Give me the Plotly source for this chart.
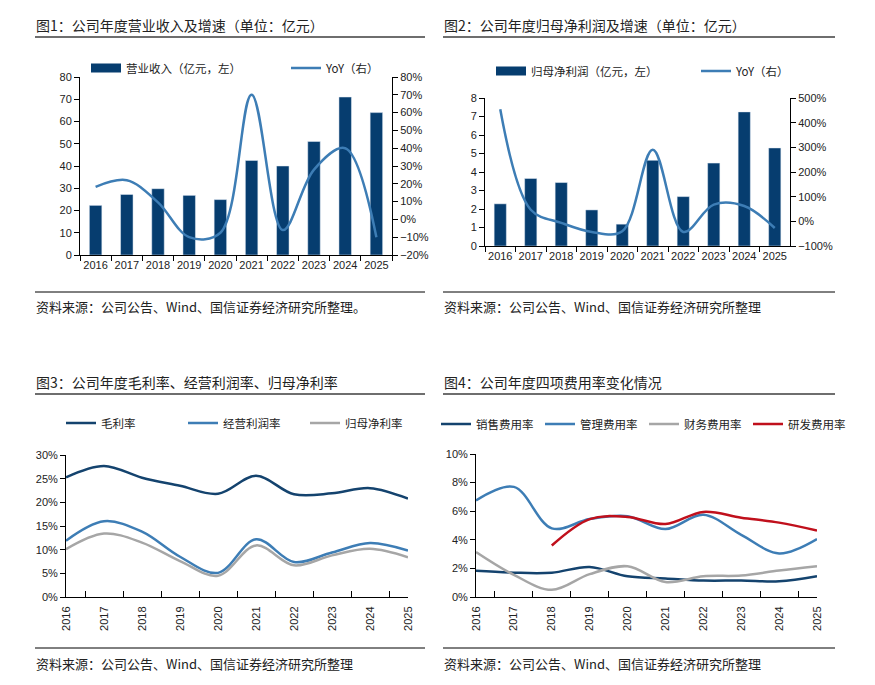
import plotly.graph_objects as go

years = ["2016", "2017", "2018", "2019", "2020", "2021", "2022", "2023", "2024", "2025"]

revenue = [22.3, 27.2, 29.8, 26.8, 24.9, 42.5, 40.0, 51.0, 71.0, 64.0]
revenue_yoy = [0.183, 0.22, 0.096, -0.10, -0.075, 0.70, -0.06, 0.28, 0.40, -0.10]

net_profit = [2.28, 3.65, 3.43, 1.95, 1.18, 4.63, 2.67, 4.48, 7.25, 5.30]
net_profit_yoy = [4.54, 0.47, -0.06, -0.43, -0.40, 2.90, -0.43, 0.68, 0.62, -0.27]

gross_margin = [0.253, 0.277, 0.252, 0.235, 0.218, 0.256, 0.217, 0.219, 0.230, 0.208]
op_margin = [0.119, 0.160, 0.138, 0.085, 0.051, 0.122, 0.074, 0.094, 0.114, 0.098]
net_margin = [0.101, 0.134, 0.115, 0.076, 0.045, 0.109, 0.067, 0.088, 0.102, 0.084]

sales_rate = [0.0183, 0.017, 0.017, 0.021, 0.0145, 0.013, 0.0115, 0.0115, 0.011, 0.0145]
admin_rate = [0.0675, 0.077, 0.048, 0.0545, 0.0565, 0.0475, 0.0575, 0.0435, 0.0305, 0.0405]
fin_rate = [0.0315, 0.0155, 0.005, 0.016, 0.0215, 0.0105, 0.0145, 0.015, 0.0185, 0.0215]
rd_rate = [None, None, 0.036, 0.0545, 0.056, 0.051, 0.0595, 0.0555, 0.052, 0.0465]

titles = ["图1：公司年度营业收入及增速（单位：亿元）",
          "图2：公司年度归母净利润及增速（单位：亿元）",
          "图3：公司年度毛利率、经营利润率、归母净利率",
          "图4：公司年度四项费用率变化情况"]
sources = ["资料来源：公司公告、Wind、国信证券经济研究所整理。",
           "资料来源：公司公告、Wind、国信证券经济研究所整理",
           "资料来源：公司公告、Wind、国信证券经济研究所整理",
           "资料来源：公司公告、Wind、国信证券经济研究所整理"]

W, H = 875, 685
OFF = 8  # page body margin
FONT = "Noto Sans CJK SC, Liberation Sans, Arial, sans-serif"
NAVY = "#063d6f"
MID = "#3d7db5"
GRAY = "#a6a6a6"
RED = "#c0101c"
TXT = "#222222"

def px(x):
    return (x - OFF) / W

def py(y):
    return 1 - (y - OFF) / H

fig = go.Figure()

# Chart 1
fig.add_trace(go.Bar(x=years, y=revenue, name="营业收入（亿元，左）", marker_color=NAVY,
                     width=0.4, xaxis="x", yaxis="y", showlegend=False))
fig.add_trace(go.Scatter(x=[None], y=[None], name="营业收入（亿元，左）", mode="lines",
                         line=dict(color=NAVY, width=9), xaxis="x", yaxis="y", legend="legend"))
fig.add_trace(go.Scatter(x=years, y=revenue_yoy, name="YoY（右）", mode="lines",
                         line=dict(color=MID, width=2.5, shape="spline", smoothing=1.0),
                         xaxis="x", yaxis="y2", legend="legend"))
# Chart 2
fig.add_trace(go.Bar(x=years, y=net_profit, name="归母净利润（亿元，左）", marker_color=NAVY,
                     width=0.4, xaxis="x2", yaxis="y3", showlegend=False))
fig.add_trace(go.Scatter(x=[None], y=[None], name="归母净利润（亿元，左）", mode="lines",
                         line=dict(color=NAVY, width=9), xaxis="x2", yaxis="y3", legend="legend2"))
fig.add_trace(go.Scatter(x=years, y=net_profit_yoy, name="YoY（右）", mode="lines",
                         line=dict(color=MID, width=2.5, shape="spline", smoothing=1.0),
                         xaxis="x2", yaxis="y4", legend="legend2"))
# Chart 3
for vals, nm, col in [(gross_margin, "毛利率", "#14436e"), (op_margin, "经营利润率", MID),
                      (net_margin, "归母净利率", GRAY)]:
    fig.add_trace(go.Scatter(x=years, y=vals, name=nm, mode="lines",
                             line=dict(color=col, width=2.5, shape="spline", smoothing=1.0),
                             xaxis="x3", yaxis="y5", legend="legend3"))
# Chart 4
for vals, nm, col in [(sales_rate, "销售费用率", "#14436e"), (admin_rate, "管理费用率", MID),
                      (fin_rate, "财务费用率", GRAY), (rd_rate, "研发费用率", RED)]:
    fig.add_trace(go.Scatter(x=years, y=vals, name=nm, mode="lines", connectgaps=False,
                             line=dict(color=col, width=2.5, shape="spline", smoothing=1.0),
                             xaxis="x4", yaxis="y6", legend="legend4"))

tickfont = dict(family="Liberation Sans, Arial, sans-serif", size=11, color=TXT)
base_x = dict(type="category", showline=True, linecolor="#000", linewidth=1, ticks="outside",
              tickson="boundaries", ticklen=5, tickcolor="#000", showgrid=False, zeroline=False,
              tickfont=tickfont, fixedrange=True)
base_y = dict(showline=True, linecolor="#000", linewidth=1, ticks="outside", ticklen=5,
              tickcolor="#000", showgrid=False, zeroline=False, tickfont=tickfont)
legfont = dict(family=FONT, size=11.5, color=TXT)

fig.update_layout(
    width=W, height=H, margin=dict(l=0, r=0, t=0, b=0, autoexpand=False),
    paper_bgcolor="white", plot_bgcolor="white", showlegend=True,
    font=dict(family=FONT, color=TXT),
    xaxis=dict(base_x, domain=[px(80), px(392)], anchor="y", tickangle=0),
    yaxis=dict(base_y, range=[0, 80], dtick=10, anchor="x", domain=[py(255), py(77)]),
    yaxis2=dict(base_y, range=[-0.2, 0.8], dtick=0.1, tickformat=".0%", overlaying="y",
                side="right", anchor="x"),
    xaxis2=dict(base_x, domain=[px(485), px(790)], anchor="y3", tickangle=0),
    yaxis3=dict(base_y, range=[0, 8], dtick=1, anchor="x2", domain=[py(246), py(98)]),
    yaxis4=dict(base_y, range=[-1, 5], dtick=1, tickformat=".0%", overlaying="y3",
                side="right", anchor="x2"),
    xaxis3=dict(base_x, domain=[px(66), px(408)], anchor="y5", tickangle=-90,
                ticks="inside", ticklen=6, ticklabelstandoff=4),
    yaxis5=dict(base_y, range=[0, 0.30], dtick=0.05, tickformat=".0%", anchor="x3",
                domain=[py(597), py(455)]),
    xaxis4=dict(base_x, domain=[px(476), px(817)], anchor="y6", tickangle=-90,
                ticks="inside", ticklen=6, ticklabelstandoff=4),
    yaxis6=dict(base_y, range=[0, 0.10], dtick=0.02, tickformat=".0%", anchor="x4",
                domain=[py(597), py(454)]),
    legend=dict(orientation="h", x=px(86), y=py(68), xanchor="left", yanchor="middle",
                entrywidth=155, font=legfont, bgcolor="rgba(0,0,0,0)", itemwidth=30),
    legend2=dict(orientation="h", x=px(491), y=py(71), xanchor="left", yanchor="middle",
                 entrywidth=160, font=legfont, bgcolor="rgba(0,0,0,0)", itemwidth=30),
    legend3=dict(orientation="h", x=px(61), y=py(423), xanchor="left", yanchor="middle",
                 entrywidth=77, font=legfont, bgcolor="rgba(0,0,0,0)", itemwidth=30),
    legend4=dict(orientation="h", x=px(436), y=py(424), xanchor="left", yanchor="middle",
                 entrywidth=59, font=legfont, bgcolor="rgba(0,0,0,0)", itemwidth=30),
)

shapes = []
annotations = []
panels = [(35, 425, 25, 37, 306, 292), (443, 835, 25, 37, 306, 292),
          (35, 425, 382, 394, 663, 648), (443, 835, 382, 394, 663, 648)]
for i, (x0, x1, ty, ly, sy, sly) in enumerate(panels):
    shapes.append(dict(type="line", xref="paper", yref="paper", x0=px(x0), x1=px(x1),
                       y0=py(ly), y1=py(ly), line=dict(color="#6e6e6e", width=2)))
    shapes.append(dict(type="line", xref="paper", yref="paper", x0=px(x0), x1=px(x1),
                       y0=py(sly), y1=py(sly), line=dict(color="#000", width=1)))
    annotations.append(dict(text=titles[i], xref="paper", yref="paper", x=px(x0 - 1), y=py(ty),
                            xanchor="left", yanchor="middle", showarrow=False,
                            font=dict(family=FONT, size=14, color=TXT)))
    annotations.append(dict(text=sources[i], xref="paper", yref="paper", x=px(x0 - 1), y=py(sy),
                            xanchor="left", yanchor="middle", showarrow=False,
                            font=dict(family=FONT, size=13, color=TXT)))
fig.update_layout(shapes=shapes, annotations=annotations)

fig.write_html("out.html")
